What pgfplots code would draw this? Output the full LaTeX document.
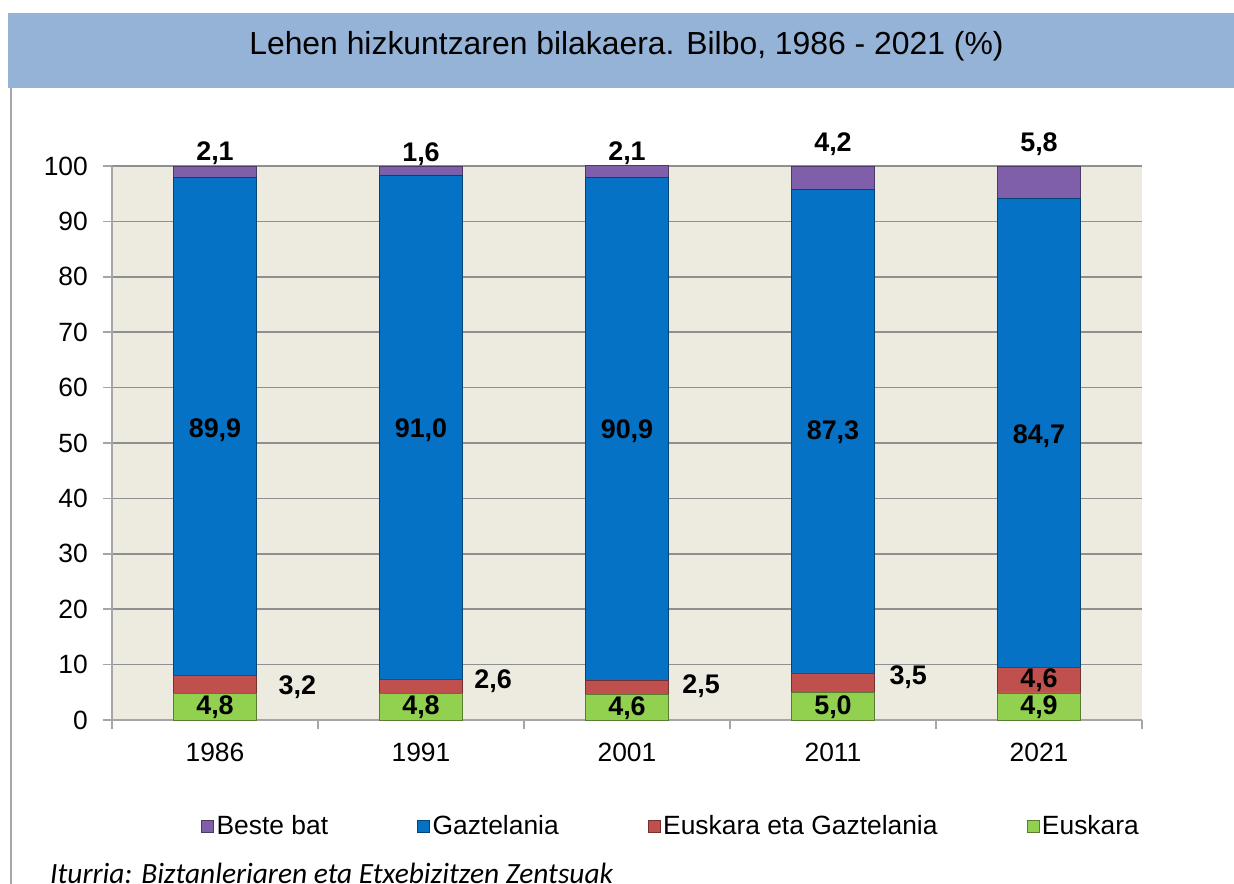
\documentclass[border=0pt]{standalone}
\usepackage{pgfplots}
\pgfplotsset{compat=1.18}
\usepackage{pgfplotstable}
\usepackage{fontspec}
\setmainfont{Liberation Sans}
\newfontfamily\carlito{Carlito}
\definecolor{band}{HTML}{95B3D7}
\definecolor{plotbg}{HTML}{EDEAE0}
\definecolor{cpurple}{HTML}{7F5FA9}
\definecolor{cblue}{HTML}{0572C5}
\definecolor{cred}{HTML}{C0504D}
\definecolor{cgreen}{HTML}{92D050}
\definecolor{gridc}{HTML}{8F8F8F}
\definecolor{axisc}{HTML}{A6A6A6}

\pgfplotstableread{
x euskara eusgaz gaz beste
0 4.8 3.2 89.9 2.1
1 4.8 2.6 91.0 1.6
2 4.6 2.5 90.9 2.1
3 5.0 3.5 87.3 4.2
4 4.9 4.6 84.7 5.8
}\bardata

\pgfplotstableread{
x y v
0 2.3 4.8
1 2.3 4.8
2 2.2 4.6
3 2.4 5.0
4 2.3 4.9
0.40 6.0 3.2
1.35 7.0 2.6
2.36 6.1 2.5
3.365 7.8 3.5
4 7.1 4.6
0 52.4 89.9
1 52.4 91.0
2 52.1 90.9
3 51.9 87.3
4 51.2 84.7
0 102.4 2.1
1 102.1 1.6
2 102.4 2.1
3 103.9 4.2
4 103.9 5.8
}\labeldata

\begin{document}
\begin{tikzpicture}
\path[use as bounding box] (0bp,0bp) rectangle (1234bp,-884bp);
\fill[white] (0bp,0bp) rectangle (1234bp,-884bp);
\fill[band] (8bp,-13bp) rectangle (1234bp,-88bp);
\draw[axisc, line width=1.5bp] (11bp,-88bp) -- (11bp,-884bp);
\node[anchor=base, inner sep=0pt, font=\fontsize{32}{36}\selectfont] at (626.5bp,-54bp) {Lehen hizkuntzaren bilakaera. Bilbo, 1986 - 2021 (\%)};

\begin{axis}[
  at={(112bp,-720bp)}, anchor=south west,
  scale only axis, width=1030bp, height=554bp,
  ybar stacked, bar width=83bp,
  xmin=-0.5, xmax=4.5, ymin=0, ymax=100,
  clip=false,
  axis background/.style={fill=plotbg},
  axis x line*=bottom, axis y line*=left,
  axis line style={draw=axisc, line width=1.5bp},
  xtick={0,1,2,3,4},
  xticklabels={1986,1991,2001,2011,2021},
  minor xtick={-0.5,0.5,1.5,2.5,3.5,4.5},
  ytick={0,10,...,100},
  tick align=outside,
  major tick length=9bp, minor tick length=9bp,
  major x tick style={draw=none},
  minor x tick style={draw=axisc, line width=1.5bp},
  major y tick style={draw=axisc, line width=1.5bp},
  ymajorgrids,
  major y grid style={draw=gridc, line width=1.5bp},
  /pgf/number format/assume math mode=true,
  tick label style={font=\fontsize{26.5}{30}\selectfont},
  yticklabel style={inner sep=0pt, xshift=-15bp},
  xticklabel style={inner sep=0pt, yshift=-14bp},
  legend columns=4,
  reverse legend,
  legend style={at={(0.0835,-0.191)}, anchor=west, draw=none, fill=none,
    font=\fontsize{26.5}{30}\selectfont,
    /tikz/every even column/.append style={column sep=86bp},
    nodes={inner sep=3bp}},
  legend image code/.code={\draw[#1, line width=0.4bp] (0bp,-6bp) rectangle (12bp,6bp);},
]
\addplot[fill=cgreen, draw=cgreen!60!black, line width=0.6bp] table[x=x, y=euskara] {\bardata};
\addlegendentry{Euskara}
\addplot[fill=cred, draw=cred!60!black, line width=0.6bp] table[x=x, y=eusgaz] {\bardata};
\addlegendentry{Euskara eta Gaztelania}
\addplot[fill=cblue, draw=cblue!60!black, line width=0.6bp] table[x=x, y=gaz] {\bardata};
\addlegendentry{Gaztelania}
\addplot[fill=cpurple, draw=cpurple!60!black, line width=0.6bp] table[x=x, y=beste] {\bardata};
\addlegendentry{Beste bat}
\end{axis}

\begin{axis}[
  at={(112bp,-720bp)}, anchor=south west,
  scale only axis, width=1030bp, height=554bp,
  xmin=-0.5, xmax=4.5, ymin=0, ymax=100,
  clip=false, hide axis,
]
\addplot[draw=none, mark=none, point meta=explicit,
  nodes near coords={\pgfmathprintnumber[fixed,fixed zerofill,precision=1,use comma,assume math mode=true]{\pgfplotspointmeta}},
  every node near coord/.append style={anchor=center, inner sep=0pt, font=\fontsize{27}{30}\selectfont\bfseries}]
  table[x=x, y=y, meta=v] {\labeldata};
\end{axis}

\node[anchor=base west, inner sep=0pt, font=\carlito\itshape\fontsize{29.5}{34}\selectfont] at (50bp,-883bp) {Iturria: Biztanleriaren eta Etxebizitzen Zentsuak};
\end{tikzpicture}
\end{document}
